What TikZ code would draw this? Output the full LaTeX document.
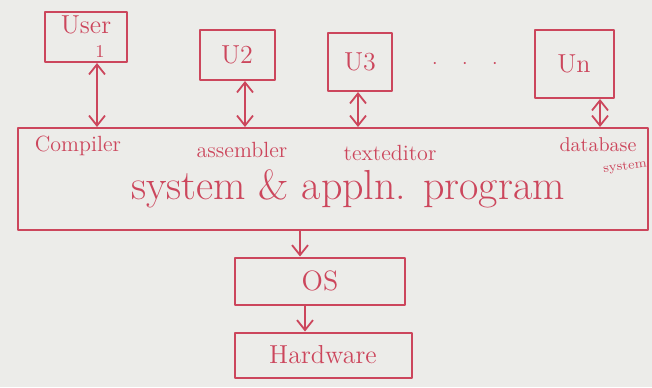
\documentclass[tikz,border=0pt]{standalone}
\usetikzlibrary{arrows.meta}
\definecolor{ink}{RGB}{204,70,92}
\definecolor{paper}{RGB}{236,236,233}
\tikzset{
  pen/.style={
    draw=ink,
    line width=1pt,
    line join=round
  },
  userbox/.style={
    pen,
    rectangle,
    inner sep=0pt,
    text=ink,
    font=\fontsize{13}{15}\selectfont
  },
  layerbox/.style={
    pen,
    rectangle,
    inner sep=0pt,
    text=ink,
    font=\fontsize{13}{15}\selectfont
  },
  tool/.style={text=ink, inner sep=0pt, font=\fontsize{11}{13}\selectfont},
  link/.style={ink, line width=0.9pt, {Straight Barb[length=5pt,width=8pt]}-{Straight Barb[length=5pt,width=8pt]}},
  down/.style={ink, line width=0.9pt, -{Straight Barb[length=5pt,width=8pt]}}
}

\begin{document}
\begin{tikzpicture}[x=0.5pt, y=-0.5pt]
  \useasboundingbox (0,0) rectangle (652,387);
  \fill[paper] (0,0) rectangle (652,387);

  % users on top
  \node[userbox, minimum width=41pt, minimum height=25pt, align=center] (u1) at (86,37)
    {User\\[-3pt]\hspace*{14pt}{\fontsize{9}{9}\selectfont 1}};
  \node[userbox, minimum width=37.5pt, minimum height=25pt] (u2) at (237,55) {U2};
  \node[userbox, minimum width=32pt, minimum height=29pt] (u3) at (360,62) {U3};
  \node[userbox, minimum width=39.5pt, minimum height=34pt] (un) at (574,64) {Un};
  \node[text=ink] (dots) at (465,64) {$\cdot\quad\cdot\quad\cdot$};

  % system and application programs
  \node[layerbox, minimum width=315pt, minimum height=51pt] (apps) at (333,179) {};
  \node[tool] (compiler) at (78,146) {Compiler};
  \node[tool] (assembler) at (242,150) {assembler};
  \node[tool] (editor) at (390,153) {texteditor};
  \node[tool, font=\fontsize{10}{12}\selectfont] (dbase) at (598,145) {database};
  \node[tool, font=\fontsize{6.5}{8}\selectfont, rotate=8] (dbsys) at (625,167) {system};
  \node[text=ink, font=\fontsize{21}{24}\selectfont] (appname) at (348,189)
    {system \& appln. program};

  % OS and hardware
  \node[layerbox, minimum width=85pt, minimum height=23.5pt, font=\fontsize{14}{16}\selectfont] (os) at (320,281) {OS};
  \node[layerbox, minimum width=88.5pt, minimum height=22.5pt] (hw) at (323,355) {Hardware};

  % connectors
  \foreach \n/\ax in {u1/97,u2/245,u3/358,un/600}
    \draw[link] (\n.south -| \ax,0) -- (apps.north -| \ax,0);
  \draw[down] (apps.south -| 300,0) -- (os.north -| 300,0);
  \draw[down] (os.south -| 305,0) -- (hw.north -| 305,0);
\end{tikzpicture}
\end{document}
